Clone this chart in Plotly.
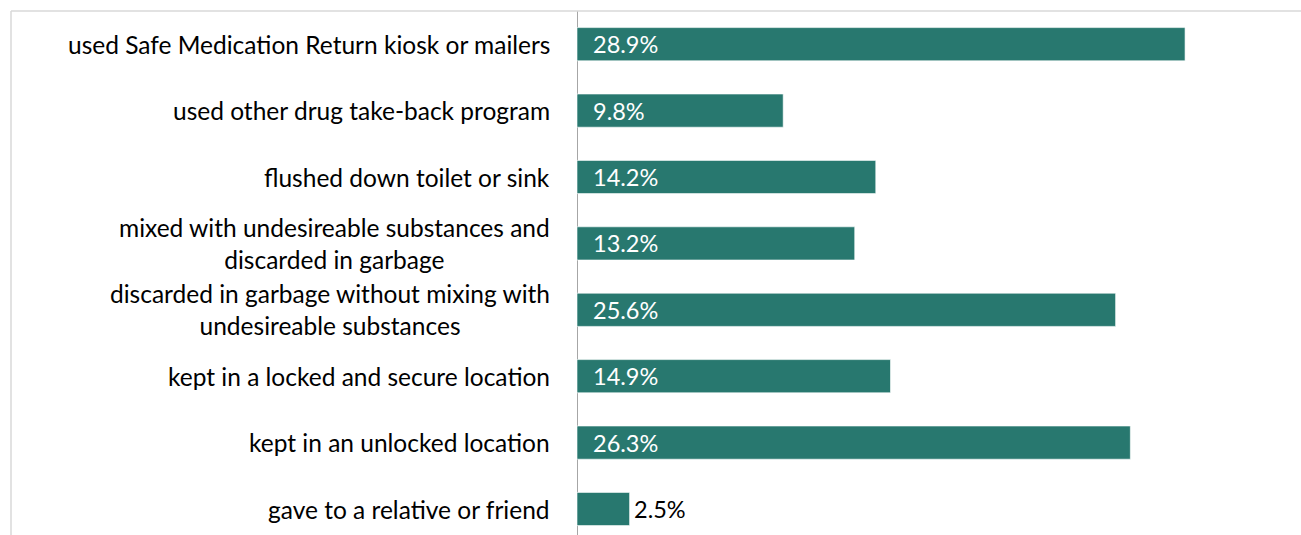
import plotly.graph_objects as go

# Disposal methods (top to bottom) and share of respondents (%)
categories = [
    "used Safe Medication Return kiosk or mailers",
    "used other drug take-back program",
    "flushed down toilet or sink",
    "mixed with undesireable substances and<br>discarded in garbage",
    "discarded in garbage without mixing with<br>undesireable substances",
    "kept in a locked and secure location",
    "kept in an unlocked location",
    "gave to a relative or friend",
]
values = [28.9, 9.8, 14.2, 13.2, 25.6, 14.9, 26.3, 2.5]

BAR_COLOR = "#28786F"
FONT = "Lato"
W, H = 1301, 535
LEFT, TOP = 11, 11          # outer frame offset
ZERO_PX = 577               # pixel position of the value axis origin
PX_PER_UNIT = 21.04

x_min = -(ZERO_PX - LEFT) / PX_PER_UNIT
x_max = (W - ZERO_PX) / PX_PER_UNIT
n = len(categories)
cat_px = 66.4
y_span = (H - TOP) / cat_px

ypos = list(range(n))

fig = go.Figure(
    go.Bar(
        x=values,
        y=ypos,
        orientation="h",
        marker=dict(color=BAR_COLOR, line=dict(color="rgba(255,255,255,0.6)", width=1)),
        width=0.5,
        hoverinfo="skip",
    )
)

annotations = []
for i, (cat, v) in enumerate(zip(categories, values)):
    annotations.append(dict(
        x=x_min, xref="x", y=i, yref="y",
        text=cat, showarrow=False, xanchor="right", align="center",
        xshift=(552 - LEFT), yanchor="middle",
        font=dict(family=FONT, size=24.5, color="#000000"),
    ))
    label = f"{v:.1f}%"
    if v < 5:
        annotations.append(dict(
            x=v, xref="x", y=i, yref="y", text=label, showarrow=False,
            xanchor="left", xshift=2, yanchor="middle",
            font=dict(family=FONT, size=23.5, color="#000000"),
        ))
    else:
        annotations.append(dict(
            x=0, xref="x", y=i, yref="y", text=label, showarrow=False,
            xanchor="left", xshift=14, yanchor="middle",
            font=dict(family=FONT, size=23.5, color="#FFFFFF"),
        ))

fig.update_layout(
    width=W, height=H,
    margin=dict(l=LEFT, r=0, t=TOP, b=0, autoexpand=False),
    paper_bgcolor="white", plot_bgcolor="white",
    showlegend=False,
    annotations=annotations,
    xaxis=dict(range=[x_min, x_max], showgrid=False, showticklabels=False,
               zeroline=True, zerolinecolor="#A6A6A6", zerolinewidth=1, fixedrange=True),
    yaxis=dict(range=[-0.5 + y_span, -0.5], showgrid=False, showticklabels=False,
               zeroline=False, fixedrange=True),
    shapes=[
        dict(type="line", xref="paper", yref="paper", x0=0, x1=0, y0=0, y1=1,
             line=dict(color="#D9D9D9", width=1.5)),
        dict(type="line", xref="paper", yref="paper", x0=0, x1=1, y0=1, y1=1,
             line=dict(color="#D9D9D9", width=1.5)),
    ],
)

fig.write_html("out.html")
